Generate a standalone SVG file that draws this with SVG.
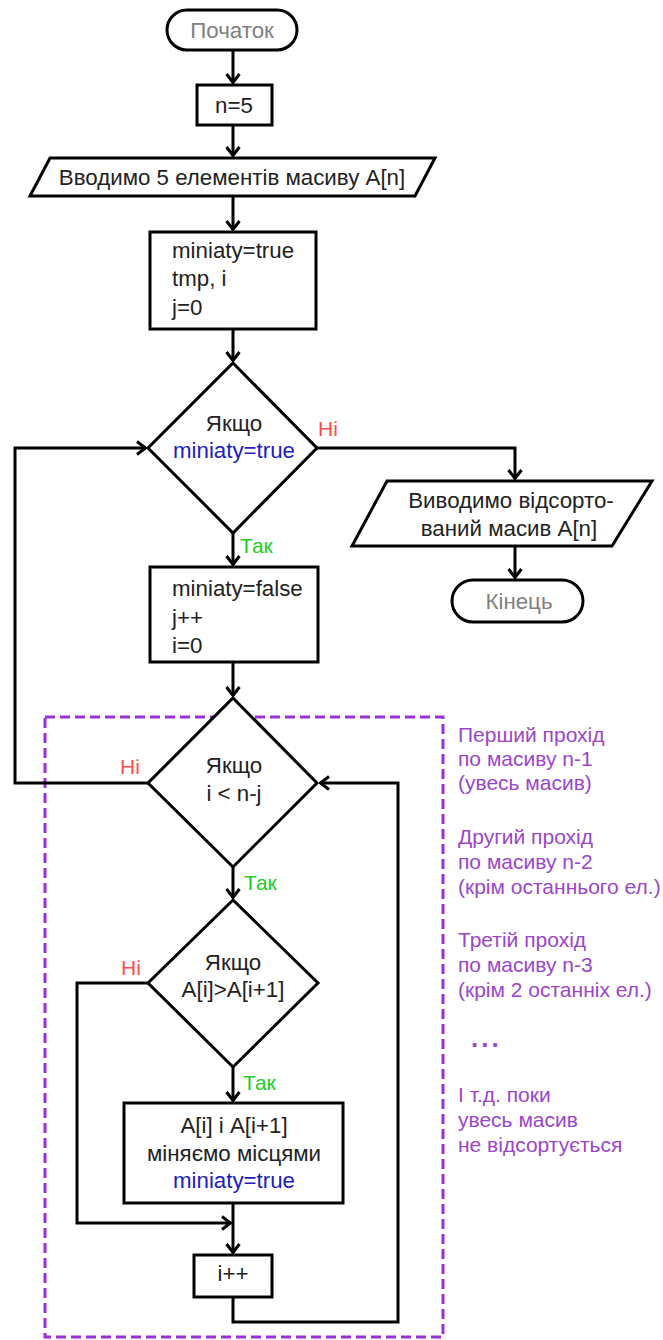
<svg xmlns="http://www.w3.org/2000/svg" width="663" height="1340" viewBox="0 0 663 1340">
<style>
.s{fill:#fff;stroke:#000;stroke-width:3}
.c{fill:none;stroke:#000;stroke-width:3}
text{font-family:"Liberation Sans",Arial,sans-serif;font-size:22.3px;fill:#222}
.m{text-anchor:middle}
.g{fill:#808080}
.b{fill:#2020c0}
.no{fill:#ff4d4d;font-size:21px}
.yes{fill:#22cc22;font-size:21px}
.n{fill:#9b45cc;font-size:21px}
</style>
<defs>
<marker id="a" viewBox="0 0 12 16" refX="11" refY="8" markerWidth="12" markerHeight="16" markerUnits="userSpaceOnUse" orient="auto">
<path d="M2,1.5 L10.5,8 L2,14.5" fill="none" stroke="#000" stroke-width="3"/>
</marker>
</defs>
<rect x="45" y="717" width="398" height="620" fill="none" stroke="#9b30d9" stroke-width="3" stroke-dasharray="10,5"/>
<g id="connectors">
<path class="c" d="M233,50 V83" marker-end="url(#a)"/>
<path class="c" d="M233,125 V156" marker-end="url(#a)"/>
<path class="c" d="M233,196 V230" marker-end="url(#a)"/>
<path class="c" d="M233,329 V361" marker-end="url(#a)"/>
<path class="c" d="M317,448 H515 V479" marker-end="url(#a)"/>
<path class="c" d="M515,546 V578" marker-end="url(#a)"/>
<path class="c" d="M233,533 V565" marker-end="url(#a)"/>
<path class="c" d="M233,662 V696" marker-end="url(#a)"/>
<path class="c" d="M148,783 H15 V448 H146" marker-end="url(#a)"/>
<path class="c" d="M233,867 V898" marker-end="url(#a)"/>
<path class="c" d="M233,1067 V1101" marker-end="url(#a)"/>
<path class="c" d="M148,983 H77 V1223 H231" marker-end="url(#a)"/>
<path class="c" d="M233,1203 V1253" marker-end="url(#a)"/>
<path class="c" d="M233,1297 V1322 H398 V783 H320" marker-end="url(#a)"/>
</g>
<g id="start"><rect class="s" x="167" y="10" width="130" height="40" rx="20"/><text class="m g" x="232" y="38">Початок</text></g>
<g id="n5"><rect class="s" x="197" y="85" width="75" height="40"/><text class="m" x="234" y="113">n=5</text></g>
<g id="input"><polygon class="s" points="50,158 435,158 415,196 30,196"/><text class="m" x="232" y="185">Вводимо 5 елементів масиву A[n]</text></g>
<g id="init"><rect class="s" x="150" y="232" width="166" height="97"/><text x="172" y="258">miniaty=true</text><text x="172" y="286">tmp, i</text><text x="172" y="315">j=0</text></g>
<g id="cond1"><polygon class="s" points="233,363 317,448 233,533 148,448"/><text class="m" x="234" y="431">Якщо</text><text class="m b" x="234" y="458">miniaty=true</text><text class="no" x="318" y="436">Ні</text><text class="yes" x="240" y="553">Так</text></g>
<g id="output"><polygon class="s" points="387,481 652,481 612,546 352,546"/><text class="m" x="511" y="508">Виводимо відсорто-</text><text class="m" x="509" y="536">ваний масив A[n]</text></g>
<g id="end"><rect class="s" x="452" y="580" width="131" height="42" rx="21"/><text class="m g" x="519" y="609">Кінець</text></g>
<g id="pass"><rect class="s" x="150" y="567" width="168" height="95"/><text x="172" y="596">miniaty=false</text><text x="172" y="625">j++</text><text x="172" y="653">i=0</text></g>
<g id="cond2"><polygon class="s" points="233,698 317,783 233,867 148,783"/><text class="m" x="234" y="773">Якщо</text><text class="m" x="234" y="801">i &lt; n-j</text><text class="no" x="120" y="774">Ні</text><text class="yes" x="244" y="890">Так</text></g>
<g id="cond3"><polygon class="s" points="233,900 318,983 233,1067 148,983"/><text class="m" x="233" y="970">Якщо</text><text class="m" x="233" y="997">A[i]&gt;A[i+1]</text><text class="no" x="121" y="975">Ні</text><text class="yes" x="243" y="1090">Так</text></g>
<g id="swap"><rect class="s" x="124" y="1103" width="219" height="100"/><text class="m" x="234" y="1133">A[i] і A[i+1]</text><text class="m" x="234" y="1161">міняємо місцями</text><text class="m b" x="234" y="1188">miniaty=true</text></g>
<g id="inc"><rect class="s" x="194" y="1255" width="78" height="42"/><text class="m" x="233" y="1281">i++</text></g>
<g id="notes">
<text class="n" x="458" y="742">Перший прохід</text>
<text class="n" x="458" y="766">по масиву n-1</text>
<text class="n" x="458" y="790">(увесь масив)</text>
<text class="n" x="458" y="844">Другий прохід</text>
<text class="n" x="458" y="869">по масиву n-2</text>
<text class="n" x="458" y="894">(крім останнього ел.)</text>
<text class="n" x="458" y="947">Третій прохід</text>
<text class="n" x="458" y="972">по масиву n-3</text>
<text class="n" x="458" y="997">(крім 2 останніх ел.)</text>
<text class="n" x="471" y="1047" style="font-weight:bold;font-size:26px;letter-spacing:3px">...</text>
<text class="n" x="458" y="1102">І т.д. поки</text>
<text class="n" x="458" y="1127">увесь масив</text>
<text class="n" x="458" y="1152">не відсортується</text>
</g>
</svg>
